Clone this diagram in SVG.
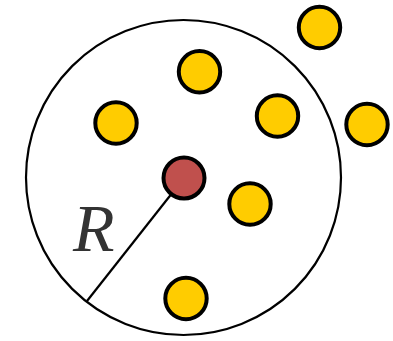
<svg xmlns="http://www.w3.org/2000/svg" width="393" height="341" viewBox="0 0 393 341">
<style>
.pt{fill:#FFCC00;stroke:#000;stroke-width:4}
.ctr{fill:#C0504D;stroke:#000;stroke-width:4}
.big{fill:none;stroke:#000;stroke-width:2.2}
.lbl{font-family:"Liberation Serif",serif;font-style:italic;font-size:68px;fill:#333}
</style>
<rect width="393" height="341" fill="#fff"/>
<g id="range"><circle class="big" cx="183.5" cy="177.5" r="157.5"/></g>
<g id="connectors"><line x1="184" y1="178" x2="87" y2="301" stroke="#000" stroke-width="2.2"/></g>
<g id="label"><text class="lbl" x="73" y="251">R</text></g>
<g id="center"><circle class="ctr" cx="184" cy="178" r="20.5"/></g>
<g id="p1"><circle class="pt" cx="319.5" cy="27.5" r="20.7"/></g>
<g id="p2"><circle class="pt" cx="199.5" cy="71.7" r="20.7"/></g>
<g id="p3"><circle class="pt" cx="116" cy="123" r="20.7"/></g>
<g id="p4"><circle class="pt" cx="277.5" cy="116" r="20.7"/></g>
<g id="p5"><circle class="pt" cx="367" cy="124.5" r="20.7"/></g>
<g id="p6"><circle class="pt" cx="250" cy="204" r="20.7"/></g>
<g id="p7"><circle class="pt" cx="186" cy="298.5" r="20.7"/></g>
</svg>
